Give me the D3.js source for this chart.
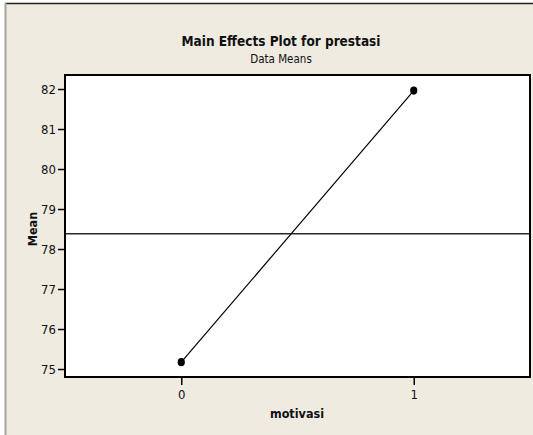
<!DOCTYPE html>
<html><head><meta charset="utf-8">
<script src="https://cdn.jsdelivr.net/npm/d3@7"></script>
<style>
html,body{margin:0;padding:0;background:#fff;}
svg{display:block;}
text{font-family:"DejaVu Sans Condensed","Liberation Sans Narrow",sans-serif;fill:#111;}
</style></head>
<body>
<script>
const levels = [0, 1];
const means = [75.17, 81.96];
const grandMean = 78.38;
const yTicks = [75, 76, 77, 78, 79, 80, 81, 82];
const xTickLabels = ["0", "1"];
const titleText = "Main Effects Plot for prestasi";
const subtitleText = "Data Means";
const xLabel = "motivasi";
const yLabel = "Mean";

const W = 533, H = 435;
const svg = d3.select("body").append("svg").attr("width", W).attr("height", H);

// panel background
svg.append("rect").attr("x", 5).attr("y", 3).attr("width", W - 5).attr("height", H - 3).attr("fill", "#efebe1");
svg.append("line").attr("x1", 5).attr("x2", W).attr("y1", 3.5).attr("y2", 3.5).attr("stroke", "#222").attr("stroke-width", 1.5);
svg.append("line").attr("x1", 5.5).attr("x2", 5.5).attr("y1", 3).attr("y2", H).attr("stroke", "#a8a59e").attr("stroke-width", 2);

const plot = {left: 65, right: 530, top: 75, bottom: 377};
const x = d3.scaleLinear().domain([-0.5, 1.5]).range([plot.left, plot.right]);
const y = d3.scaleLinear().domain([75, 82]).range([369, 89]);

svg.append("rect").attr("x", plot.left).attr("y", plot.top)
  .attr("width", plot.right - plot.left).attr("height", plot.bottom - plot.top)
  .attr("fill", "#fff");

// reference line
svg.append("line").attr("x1", plot.left).attr("x2", plot.right)
  .attr("y1", y(grandMean)).attr("y2", y(grandMean))
  .attr("stroke", "#2a2a2a").attr("stroke-width", 1.6);

// data line
const line = d3.line().x((d, i) => x(levels[i])).y(d => y(d));
svg.append("path").datum(means).attr("d", line).attr("fill", "none").attr("stroke", "#000").attr("stroke-width", 1.2);
svg.selectAll("ellipse.pt").data(means).enter().append("ellipse")
  .attr("cx", (d, i) => x(levels[i])).attr("cy", d => y(d)).attr("rx", 3.6).attr("ry", 4.1).attr("fill", "#000");

// frame
svg.append("rect").attr("x", plot.left).attr("y", plot.top)
  .attr("width", plot.right - plot.left).attr("height", plot.bottom - plot.top)
  .attr("fill", "none").attr("stroke", "#000").attr("stroke-width", 2);

// y axis
const yAxis = d3.axisLeft(y).tickValues(yTicks).tickSize(6).tickPadding(2).tickFormat(d3.format("d"));
const gy = svg.append("g").attr("transform", `translate(${plot.left - 1},0)`).call(yAxis);
gy.select(".domain").remove();
gy.selectAll(".tick line").attr("stroke", "#000").attr("stroke-width", 1.5);
gy.selectAll(".tick text").attr("font-size", 13).attr("fill", "#111").style("font-family", '"DejaVu Sans Condensed",sans-serif');

// x axis
const xAxis = d3.axisBottom(x).tickValues(levels).tickSize(7).tickPadding(5).tickFormat((d, i) => xTickLabels[i]);
const gx = svg.append("g").attr("transform", `translate(0,${plot.bottom + 1})`).call(xAxis);
gx.select(".domain").remove();
gx.selectAll(".tick line").attr("stroke", "#000").attr("stroke-width", 1.5);
gx.selectAll(".tick text").attr("font-size", 13).attr("fill", "#111").style("font-family", '"DejaVu Sans Condensed",sans-serif');

// titles
svg.append("text").attr("x", 281).attr("y", 46).attr("text-anchor", "middle")
  .attr("font-size", 13.5).attr("font-weight", "bold").text(titleText);
svg.append("text").attr("x", 281).attr("y", 63).attr("text-anchor", "middle")
  .attr("font-size", 11.5).text(subtitleText);
svg.append("text").attr("x", 297).attr("y", 418).attr("text-anchor", "middle")
  .attr("font-size", 12.5).attr("font-weight", "bold").text(xLabel);
svg.append("text").attr("transform", `translate(37,229) rotate(-90)`).attr("text-anchor", "middle")
  .attr("font-size", 12.5).attr("font-weight", "bold").text(yLabel);
</script>
</body></html>
